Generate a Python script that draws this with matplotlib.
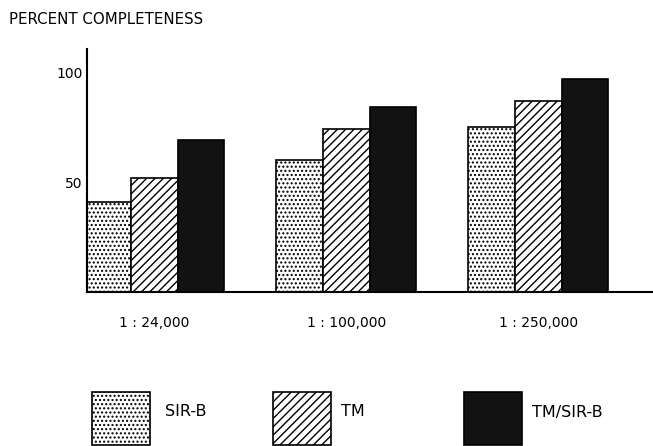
import matplotlib
matplotlib.use("Agg")
import matplotlib.pyplot as plt
from matplotlib.patches import Rectangle
import numpy as np

plt.rcParams['hatch.linewidth'] = 1.0

scales = ['1 : 24,000', '1 : 100,000', '1 : 250,000']
series_names = ['SIR-B', 'TM', 'TM/SIR-B']
sirb = [41, 60, 75]
tm = [52, 74, 87]
tm_sirb = [69, 84, 97]
yticks = [50, 100]

W, H = 653, 446
fig = plt.figure(figsize=(W / 100, H / 100), dpi=100)
ax = fig.add_axes([87 / W, 1 - 292 / H, 1 - 87 / W, (292 - 49) / H])

x = np.arange(len(scales))
w = 0.243
styles = [dict(facecolor='white', hatch='....'),
          dict(facecolor='white', hatch='////'),
          dict(facecolor='#121212', hatch=None)]
for off, vals, st in zip([-w, 0, w], [sirb, tm, tm_sirb], styles):
    ax.bar(x + off, vals, width=w, edgecolor='black', linewidth=1.2, **st)

ax.set_xlim(-0.35, 2.597)
ax.set_ylim(0, 110.5)
ax.set_xticks(x)
ax.set_xticklabels(scales, fontsize=10)
ax.set_yticks(yticks)
ax.set_yticklabels([str(t) for t in yticks], fontsize=10)
ax.tick_params(axis='both', length=0)
ax.tick_params(axis='x', pad=17)
ax.tick_params(axis='y', pad=3)
for s in ['top', 'right']:
    ax.spines[s].set_visible(False)
ax.spines['left'].set_linewidth(1.5)
ax.spines['bottom'].set_linewidth(1.5)

fig.text(9 / W, 1 - 24 / H, 'PERCENT COMPLETENESS', fontsize=10.8, va='baseline', ha='left')

# legend drawn in pixel coordinates
lax = fig.add_axes([0, 0, 1, 1])
lax.set_xlim(0, W)
lax.set_ylim(H, 0)
lax.axis('off')
box_x = [92, 273, 464]
text_x = [165, 341, 532]
for bx, tx, name, st in zip(box_x, text_x, series_names, styles):
    lax.add_patch(Rectangle((bx, 392), 58, 53, edgecolor='black', linewidth=1.2, **st))
    lax.text(tx, 412, name, fontsize=11.5, va='center', ha='left')

fig.savefig('out.png', dpi=100)
